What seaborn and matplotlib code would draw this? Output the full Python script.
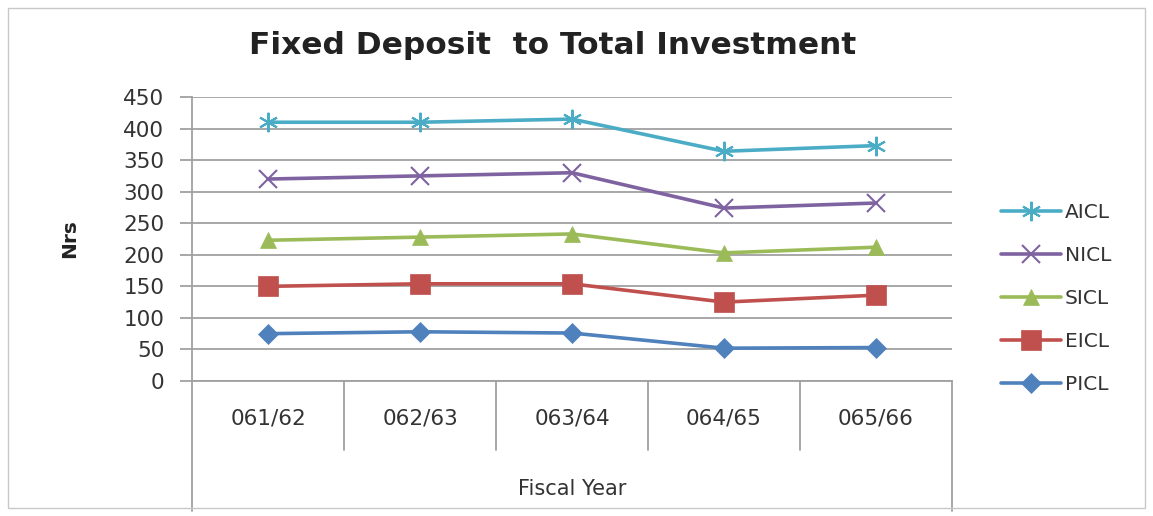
import matplotlib
matplotlib.use("Agg")
import matplotlib.pyplot as plt
import matplotlib.transforms as mtransforms
import seaborn as sns
import pandas as pd

years = ["061/62", "062/63", "063/64", "064/65", "065/66"]
series_names = ["PICL", "EICL", "SICL", "NICL", "AICL"]
picl = [75, 78, 76, 52, 53]
eicl = [150, 154, 154, 125, 136]
sicl = [223, 228, 233, 203, 212]
nicl = [320, 325, 330, 274, 282]
aicl = [410, 410, 415, 364, 373]
values = [picl, eicl, sicl, nicl, aicl]
yticks = [0, 50, 100, 150, 200, 250, 300, 350, 400, 450]

colors = {"AICL": "#4BACC6", "NICL": "#7F63A1", "SICL": "#9BBB59",
          "EICL": "#C0504D", "PICL": "#4F81BD"}
markers = {"AICL": (6, 2, 0), "NICL": "x", "SICL": "^", "EICL": "s", "PICL": "D"}
msizes = {"AICL": 14, "NICL": 13, "SICL": 12, "EICL": 14, "PICL": 10}

rows = []
for name, vals in zip(series_names, values):
    for i, v in enumerate(vals):
        rows.append({"pos": i, "year": years[i], "value": v, "series": name})
df = pd.DataFrame(rows)

sns.set_theme(style="white")
plt.rcParams["font.family"] = ["DejaVu Sans"]

fig = plt.figure(figsize=(11.53, 5.16), dpi=100)
ax = fig.add_axes([192 / 1153, 1 - 381 / 516, 760 / 1153, 284 / 516])

for name in series_names:
    sub = df[df["series"] == name]
    sns.lineplot(data=sub, x="pos", y="value", ax=ax, color=colors[name],
                 linewidth=2.6, marker=markers[name], markersize=msizes[name],
                 markeredgecolor=colors[name],
                 markeredgewidth=1.5 if name in ("AICL", "NICL") else 0.5,
                 label=name, zorder=3)

ax.set_xlim(-0.5, 4.5)
ax.set_ylim(0, 450)
ax.set_yticks(yticks)
ax.set_yticklabels([str(t) for t in yticks], fontsize=15.5, color="#333333")
ax.yaxis.grid(True, color="#a0a0a0", linewidth=1.3)
ax.xaxis.grid(False)
ax.tick_params(axis="y", length=9, color="#a0a0a0", width=1.3, pad=11, left=True)
ax.set_xticks(range(len(years)))
ax.set_xticklabels(years, fontsize=15.5, color="#333333")
ax.tick_params(axis="x", length=0, pad=20)
for s in ["top", "right"]:
    ax.spines[s].set_visible(False)
for s in ["left", "bottom"]:
    ax.spines[s].set_color("#a0a0a0")
    ax.spines[s].set_linewidth(1.3)

# multi-level category separators
trans = mtransforms.blended_transform_factory(ax.transData, ax.transAxes)
h_px = 284.0
for b in [0.5, 1.5, 2.5, 3.5]:
    ax.plot([b, b], [0, -69 / h_px], transform=trans, color="#a0a0a0",
            linewidth=1.3, clip_on=False)
for b in [-0.5, 4.5]:
    ax.plot([b, b], [0, -130 / h_px], transform=trans, color="#a0a0a0",
            linewidth=1.3, clip_on=False)

ax.set_xlabel("Fiscal Year", fontsize=15, color="#333333", labelpad=36)
ax.set_ylabel("Nrs", fontsize=14.5, fontweight="bold", color="#222222", labelpad=32)

fig.suptitle("Fixed Deposit  to Total Investment", x=553 / 1153, y=1 - 46 / 516,
             va="center", fontsize=22.5, fontweight="bold", color="#222222")

handles, labels = ax.get_legend_handles_labels()
leg = ax.legend(handles[::-1], labels[::-1], loc="center left",
                bbox_to_anchor=(1.04, 0.29), frameon=False, fontsize=14.5,
                handlelength=3.0, labelspacing=1.2, handletextpad=0.2)
for t in leg.get_texts():
    t.set_color("#333333")

fig.patches.append(plt.Rectangle((8 / 1153, 8 / 516), 1 - 16 / 1153, 1 - 16 / 516,
                                 transform=fig.transFigure, fill=False,
                                 edgecolor="#c8c8c8", linewidth=1.0))

fig.savefig("out.png", dpi=100)
